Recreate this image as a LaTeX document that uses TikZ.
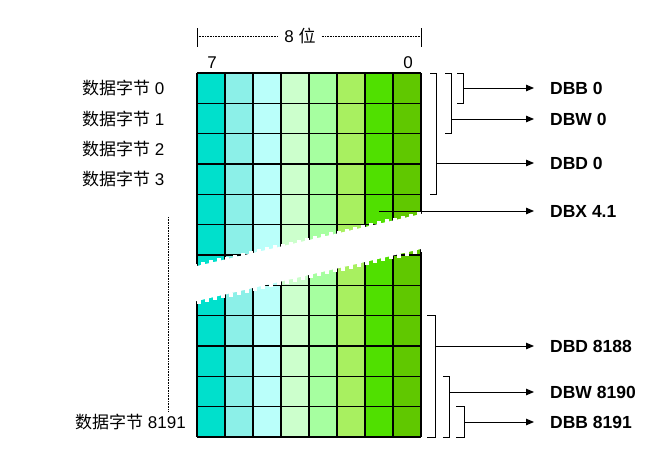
\documentclass[tikz,border=0pt]{standalone}
\usepackage{fontspec}
\setmainfont{Liberation Sans}
\newfontfamily\cjk{Noto Sans CJK SC}
\usepackage{tikz}
\usetikzlibrary{arrows.meta,positioning,calc}
\definecolor{bitA}{RGB}{0,224,204}
\definecolor{bitB}{RGB}{140,240,232}
\definecolor{bitC}{RGB}{186,255,250}
\definecolor{bitD}{RGB}{204,255,204}
\definecolor{bitE}{RGB}{166,255,160}
\definecolor{bitF}{RGB}{168,240,96}
\definecolor{bitG}{RGB}{80,224,0}
\definecolor{bitH}{RGB}{96,200,0}
\tikzset{%
  bytelabel/.style={anchor=west,inner sep=0pt,font=\fontsize{17}{20}\selectfont},
  acclabel/.style={anchor=west,inner sep=0pt,font=\fontsize{17.5}{20}\selectfont\bfseries},
  gridline/.style={line width=1.4pt},
  bracket/.style={line width=1pt},
  arrow/.style={-{Triangle[length=8pt,width=6.5pt]}, line width=1pt, shorten >=16pt}%
}
\begin{document}
\begin{tikzpicture}[x=1pt,y=-1pt]
\useasboundingbox (0,0) rectangle (663,455);

% Columns (bit 7 ... bit 0)
\foreach \c [count=\i from 0] in {bitA,bitB,bitC,bitD,bitE,bitF,bitG,bitH}
  \fill[\c] (197+28*\i,73) rectangle ++(28,364);

% Grid
\foreach \i in {0,...,8}
  \draw[gridline] (197+28*\i,73) -- (197+28*\i,437);
\foreach \k in {0,...,12}
  \draw[gridline] (197,{73+\k*30.33}) -- (421,{73+\k*30.33});

% Break
\fill[white] (190,267.6) -- (428,212.4) -- (428,247.4) -- (190,302.6) -- cycle;
\foreach \x in {193,201,...,425} {
  \fill[white] (\x,{266-0.232*(\x-197)+1}) rectangle ++(4,-4);
  \fill[white] (\x+4,{301-0.232*(\x+4-197)-1}) rectangle ++(4,4);
}

% Width
\node[font=\fontsize{17}{20}\selectfont, inner xsep=6pt] (width) at (300,36) {8 {\cjk 位}};
\draw[line width=0.8pt] (197,28) -- (197,47);
\draw[line width=0.8pt] (421,28) -- (421,47);
\draw[densely dotted, line width=0.6pt] (197,36) -- (width.west);
\draw[densely dotted, line width=0.6pt] (width.east) -- (421,36);
\node[font=\fontsize{17}{20}\selectfont] (msb) at (212,63) {7};
\node[font=\fontsize{17}{20}\selectfont] (lsb) at (408,63) {0};

% Byte labels
\node[bytelabel] (byte0) at (82,88) {{\cjk 数据字节} 0};
\node[bytelabel] (byte1) at (82,119) {{\cjk 数据字节} 1};
\node[bytelabel] (byte2) at (82,149) {{\cjk 数据字节} 2};
\node[bytelabel] (byte3) at (82,179) {{\cjk 数据字节} 3};
\node[bytelabel] (byte8191) at (75,422) {{\cjk 数据字节} 8191};
\coordinate (gapTop) at (168,217);
\coordinate (gapBot) at (168,412);
\draw[densely dotted, line width=0.6pt] (gapTop) -- (gapBot);

% Access labels
\node[acclabel] (DBB0) at (550,88) {DBB 0};
\node[acclabel] (DBW0) at (550,119) {DBW 0};
\node[acclabel] (DBD0) at (550,163) {DBD 0};
\node[acclabel] (DBX41) at (550,211) {DBX 4.1};
\node[acclabel] (DBD8188) at (550,346) {DBD 8188};
\node[acclabel] (DBW8190) at (550,392) {DBW 8190};
\node[acclabel] (DBB8191) at (550,422) {DBB 8191};

% Brackets
\draw[bracket] (457,73) -| (463,103.3) -- (457,103.3);
\draw[bracket] (445,73) -| (451,133.7) -- (445,133.7);
\draw[bracket] (430,73) -| (436,194.3) -- (430,194.3);
\draw[bracket] (427,315.6) -| (435,437) -- (427,437);
\draw[bracket] (443,376.3) -| (449,437) -- (443,437);
\draw[bracket] (456,406.6) -| (464,437) -- (456,437);
\coordinate (bDBB0) at (463,88);
\coordinate (bDBW0) at (451,119);
\coordinate (bDBD0) at (436,163);
\coordinate (bDBX41) at (379,211);
\coordinate (bDBD8188) at (435,346);
\coordinate (bDBW8190) at (449,392);
\coordinate (bDBB8191) at (464,422);

% Arrows
\draw[arrow] (bDBB0) -- (bDBB0 -| DBB0.west);
\draw[arrow] (bDBW0) -- (bDBW0 -| DBW0.west);
\draw[arrow] (bDBD0) -- (bDBD0 -| DBD0.west);
\draw[arrow] (bDBX41) -- (bDBX41 -| DBX41.west);
\draw[arrow] (bDBD8188) -- (bDBD8188 -| DBD8188.west);
\draw[arrow] (bDBW8190) -- (bDBW8190 -| DBW8190.west);
\draw[arrow] (bDBB8191) -- (bDBB8191 -| DBB8191.west);

\end{tikzpicture}
\end{document}
